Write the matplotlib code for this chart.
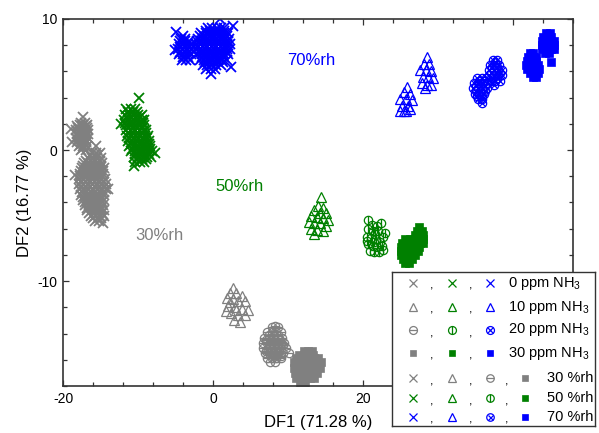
import matplotlib
matplotlib.use("Agg")
import matplotlib.pyplot as plt
from matplotlib.ticker import MultipleLocator, FixedLocator, FixedFormatter

plt.rcParams['font.family'] = ['Liberation Sans', 'DejaVu Sans']
plt.rcParams['mathtext.fontset'] = 'custom'
plt.rcParams['mathtext.rm'] = 'Liberation Sans'
plt.rcParams['mathtext.default'] = 'regular'
plt.rcParams['axes.unicode_minus'] = False

# ---------------- data (DF1, DF2 scores), rows of (DF2, [DF1 ...]) ----------------
# 30 %rh
rh30_ppm0 = [
    (2.5, [-17.3]), (2.1, [-17.6, -17.1]), (1.95, [-17.8, -17.3, -16.8]),
    (1.8, [-18.1, -17.5, -16.9]), (1.65, [-18.0, -17.4, -16.8]), (1.6, [-18.9]),
    (1.5, [-18.3, -17.7, -17.1, -16.7]), (1.35, [-18.0, -17.4, -16.9]),
    (1.2, [-18.2, -17.6, -17.0, -16.6]), (1.05, [-18.0, -17.4, -16.9]),
    (0.9, [-18.3, -17.8, -17.2, -16.7]), (0.75, [-18.0, -17.5, -17.0]),
    (0.6, [-18.8, -18.1, -17.5, -16.9]), (0.45, [-17.6, -17.1]),
    (0.3, [-17.9, -17.3, -16.8, -15.6]), (0.15, [-17.3]), (0.0, [-17.6, -17.0]),
    (-0.2, [-16.2, -15.6, -15.1]), (-0.4, [-16.4, -15.8, -15.3]),
    (-0.6, [-16.7, -16.1, -15.5, -14.9]), (-0.8, [-16.9, -16.3, -15.7, -15.1]),
    (-1.0, [-17.2, -16.6, -16.0, -15.4, -14.8]), (-1.2, [-17.3, -16.7, -16.1, -15.5, -14.9]),
    (-1.4, [-17.5, -16.9, -16.3, -15.7, -15.1, -14.5]),
    (-1.6, [-17.6, -17.0, -16.4, -15.8, -15.2, -14.7]),
    (-1.8, [-17.7, -17.1, -16.5, -15.9, -15.3, -14.7]), (-1.9, [-18.4]),
    (-2.0, [-17.8, -17.2, -16.6, -16.0, -15.4, -14.8]),
    (-2.2, [-17.9, -17.3, -16.7, -16.1, -15.5, -14.9, -14.4]),
    (-2.4, [-17.6, -17.0, -16.4, -15.8, -15.2, -14.6]),
    (-2.6, [-17.9, -17.3, -16.7, -16.1, -15.5, -14.9, -14.3]),
    (-2.8, [-17.6, -17.0, -16.4, -15.8, -15.2, -14.6]),
    (-3.0, [-17.8, -17.2, -16.6, -16.0, -15.4, -14.8, -14.3, -14.0]),
    (-3.2, [-17.5, -16.9, -16.3, -15.7, -15.1, -14.6]),
    (-3.4, [-17.6, -17.0, -16.4, -15.8, -15.2, -14.6]),
    (-3.6, [-17.3, -16.7, -16.1, -15.5, -14.9]),
    (-3.8, [-17.4, -16.8, -16.2, -15.6, -15.0, -14.5]),
    (-4.0, [-17.1, -16.5, -15.9, -15.3, -14.8]),
    (-4.2, [-17.1, -16.5, -15.9, -15.3, -14.7]), (-4.4, [-16.8, -16.2, -15.6, -15.0]),
    (-4.6, [-16.8, -16.2, -15.6, -15.0, -14.5]), (-4.8, [-16.5, -15.9, -15.3, -14.8]),
    (-5.0, [-16.3, -15.7, -15.1, -14.6]), (-5.2, [-16.0, -15.4, -14.9]),
    (-5.4, [-15.8, -15.2]), (-5.6, [-14.7]),
]
rh30_ppm10 = [
    (-10.5, [2.6]), (-10.9, [2.2, 3.0]), (-11.1, [3.8]), (-11.3, [1.8]), (-11.4, [2.6]),
    (-11.5, [3.3, 4.3]), (-11.6, [2.3]), (-11.9, [2.0]), (-12.0, [2.9]), (-12.1, [3.8]),
    (-12.2, [3.1, 4.6]), (-12.3, [1.7]), (-12.4, [2.4]), (-12.6, [3.3, 4.2]),
    (-13.0, [2.8]), (-13.1, [3.6]),
]
rh30_ppm20 = [
    (-13.4, [8.2]), (-13.5, [7.9, 8.6]), (-13.9, [7.2, 7.8, 8.4, 9.0]), (-14.1, [7.5, 8.1, 8.7]),
    (-14.3, [6.8, 7.4, 8.0, 8.6, 9.2]), (-14.5, [7.1, 7.7, 8.3, 8.9]),
    (-14.7, [6.6, 7.2, 7.8, 8.4, 9.0, 9.5]), (-14.9, [7.5, 8.1, 8.7, 9.3]),
    (-15.1, [6.7, 7.3, 7.9, 8.5, 9.1, 9.7]), (-15.3, [7.0, 7.6, 8.2, 8.8]),
    (-15.5, [6.9, 7.5, 8.1, 8.7, 9.3, 10.1]), (-15.7, [7.9, 8.5, 9.1]),
    (-15.9, [7.2, 7.8, 8.4, 9.0]), (-16.2, [7.6, 8.3]),
]
rh30_ppm30 = [
    (-15.3, [12.1, 12.7, 13.2]), (-15.6, [11.5, 12.1, 12.7, 13.3]),
    (-15.9, [11.0, 11.6, 12.2, 12.8, 13.4, 14.0]), (-16.2, [10.8, 11.4, 12.0, 12.6, 13.2, 13.8, 14.4]),
    (-16.6, [10.8, 11.4, 12.0, 12.6, 13.2, 13.8, 14.3]), (-17.0, [10.9, 11.5, 12.1, 12.7, 13.3, 13.9]),
    (-17.4, [11.1, 11.7, 12.3, 12.9, 13.5]), (-17.8, [11.6, 12.2]), (-18.1, [11.8]),
]
# 50 %rh
rh50_ppm0 = [
    (4.0, [-9.9]), (3.1, [-11.6, -11.0, -10.4]), (2.9, [-11.3, -10.7, -10.1]),
    (2.7, [-11.8, -11.2, -10.6, -10.0, -9.5]), (2.5, [-11.5, -10.9, -10.3, -9.8]),
    (2.3, [-11.9, -11.3, -10.7, -10.1, -9.5, -9.2]), (2.1, [-11.7, -11.1, -10.5, -9.9, -9.4]),
    (2.0, [-12.3]), (1.9, [-11.6, -11.0, -10.4, -9.8, -9.2]),
    (1.7, [-11.3, -10.7, -10.1, -9.5]), (1.5, [-11.6, -11.0, -10.4, -9.8, -9.2, -8.9]),
    (1.3, [-11.3, -10.7, -10.1, -9.5, -9.0]), (1.1, [-11.5, -10.9, -10.3, -9.7, -9.1, -8.7]),
    (0.9, [-11.2, -10.6, -10.0, -9.4, -8.8]), (0.7, [-11.4, -10.8, -10.2, -9.6, -9.0, -8.5]),
    (0.5, [-11.0, -10.4, -9.8, -9.2, -8.6]), (0.3, [-11.2, -10.6, -10.0, -9.4, -8.8, -8.4]),
    (0.1, [-10.8, -10.2, -9.6, -9.0, -8.4]), (-0.1, [-11.0, -10.4, -9.8, -9.2, -8.6, -8.1]),
    (-0.2, [-7.8]), (-0.3, [-10.4, -9.8, -9.2, -8.6]),
    (-0.5, [-10.6, -10.0, -9.4, -8.8, -8.3]), (-0.7, [-10.1, -9.5, -8.9]),
    (-0.9, [-10.4, -9.8, -9.2]), (-1.2, [-10.5]),
]
rh50_ppm10 = [
    (-3.6, [14.4]), (-4.3, [14.0]), (-4.4, [14.7]), (-4.6, [13.5]), (-4.8, [14.3, 15.1]),
    (-5.0, [13.0]), (-5.1, [13.8]), (-5.2, [14.6]), (-5.3, [15.3]), (-5.5, [12.8]),
    (-5.6, [13.5, 14.3]), (-5.8, [15.0]), (-6.0, [13.1]), (-6.1, [13.9]), (-6.2, [14.6]),
    (-6.4, [13.5]),
]
rh50_ppm20 = [
    (-5.3, [20.7]), (-5.6, [22.4]), (-5.7, [21.2]), (-5.8, [21.8]), (-6.0, [20.6]),
    (-6.2, [21.3, 22.0]), (-6.3, [22.9]), (-6.4, [21.6]), (-6.6, [20.5, 22.6]), (-6.7, [21.1]),
    (-6.8, [21.7]), (-6.9, [20.5]), (-7.0, [22.3, 21.4]), (-7.2, [20.7]), (-7.3, [21.3, 22.5]),
    (-7.4, [21.9]), (-7.6, [22.7]), (-7.7, [20.9]), (-7.8, [21.5, 22.1]),
]
rh50_ppm30 = [
    (-5.9, [27.4]), (-6.2, [27.2, 27.8]), (-6.5, [26.9, 27.5, 28.0]),
    (-6.8, [25.6, 26.2, 26.8, 27.4, 28.0]), (-7.1, [25.2, 25.8, 26.4, 27.0, 27.6, 28.0]),
    (-7.4, [25.0, 25.6, 26.2, 26.8, 27.4]), (-7.7, [25.0, 25.6, 26.2, 26.8, 27.3]),
    (-8.0, [25.1, 25.7, 26.3, 26.9]), (-8.3, [25.3, 25.9, 26.5]), (-8.6, [25.6, 26.1]),
]
# 70 %rh
rh70_ppm0 = [
    (10.0, [0.9]), (9.5, [2.7]), (9.3, [-0.7, -0.1, 0.5, 1.1, 1.5]),
    (9.1, [-1.0, -0.4, 0.2, 0.8, 1.4]), (9.0, [-4.9]),
    (8.9, [-1.6, -1.0, -0.4, 0.2, 0.8, 1.4, 2.0]),
    (8.7, [-4.0, -1.8, -1.2, -0.6, 0.0, 0.6, 1.2, 1.8]),
    (8.5, [-4.3, -3.7, -2.0, -1.4, -0.8, -0.2, 0.4, 1.0, 1.6, 2.1]),
    (8.3, [-4.4, -3.8, -3.2, -2.2, -1.6, -1.0, -0.4, 0.2, 0.8, 1.4, 2.0]),
    (8.1, [-4.6, -4.0, -3.4, -2.9, -2.3, -1.7, -1.1, -0.5, 0.1, 0.7, 1.3, 1.9, 2.2]),
    (7.9, [-4.4, -3.8, -3.2, -2.6, -2.0, -1.4, -0.8, -0.2, 0.4, 1.0, 1.6]),
    (7.7, [-4.7, -4.1, -3.5, -2.9, -2.3, -1.7, -1.1, -0.5, 0.1, 0.7, 1.3, 1.9, 2.2]),
    (7.6, [-5.1]),
    (7.5, [-4.4, -3.8, -3.2, -2.6, -1.8, -1.2, -0.6, 0.0, 0.6, 1.2, 1.8]),
    (7.3, [-4.6, -4.0, -3.4, -2.9, -2.1, -1.5, -0.9, -0.3, 0.3, 0.9, 1.5, 2.0]),
    (7.1, [-4.0, -3.4, -1.5, -0.9, -0.3, 0.3, 0.9, 1.5]),
    (6.9, [-4.2, -3.6, -3.1, -1.8, -1.2, -0.6, 0.0, 0.6, 1.2, 1.8]),
    (6.7, [-1.1, -0.5, 0.1, 0.7, 1.3]),
    (6.5, [-1.4, -0.8, -0.2, 0.4, 1.0]), (6.3, [2.4]), (6.2, [-0.9, -0.3, 0.3]), (5.8, [-0.3]),
]
rh70_ppm10 = [
    (4.8, [25.9]), (4.4, [25.4]), (4.3, [26.2]), (3.9, [24.9, 25.7]), (3.8, [26.5]),
    (3.4, [25.2, 26.0]), (3.1, [26.3]), (3.0, [24.9, 25.5]), (2.95, [25.7]),
    (7.1, [28.5]), (6.6, [28.1, 28.8]), (6.1, [27.6, 28.4]), (6.0, [29.1]),
    (5.6, [28.0, 28.7]), (5.5, [29.3]), (5.1, [27.8]), (5.0, [28.5, 29.1]), (4.7, [28.2]),
]
rh70_ppm20 = [
    (5.5, [35.2, 35.8, 36.4]), (5.3, [35.5, 36.1]), (5.1, [34.8, 35.4, 36.0, 36.5]),
    (4.9, [35.1, 35.7, 36.3]), (4.7, [34.7, 35.3, 35.9, 36.5]), (4.5, [35.0, 35.6, 36.2]),
    (4.3, [34.9, 35.5, 36.1]), (4.1, [35.2, 35.8]), (3.9, [35.3, 35.9]), (3.6, [35.8]),
    (6.9, [37.3, 37.9]), (6.7, [37.6]), (6.5, [36.9, 37.5, 38.1]), (6.3, [37.2, 37.8]),
    (6.1, [36.8, 37.4, 38.0, 38.5]), (5.9, [37.1, 37.7, 38.3]),
    (5.7, [36.8, 37.4, 38.0, 38.5]), (5.5, [37.3, 37.9]), (5.3, [37.0, 37.6, 38.2]), (5.0, [37.4]),
]
rh70_ppm30 = [
    (7.4, [42.2, 42.7]), (7.1, [42.0, 42.6, 43.0]), (6.8, [41.9, 42.5, 43.0]),
    (6.5, [41.7, 42.3, 42.9, 43.3]), (6.2, [41.8, 42.4, 43.0, 43.5]), (5.9, [42.2, 42.8, 43.3]),
    (5.6, [42.6, 43.1]),
    (8.9, [44.4, 44.9]), (8.6, [44.0, 44.6, 45.1]), (8.3, [43.8, 44.4, 45.0, 45.5]),
    (8.0, [43.8, 44.4, 45.0, 45.5]), (7.7, [43.9, 44.5, 45.1, 45.4]), (7.4, [44.2, 44.8]),
    (6.7, [45.1]),
]

humidities = ["30 %rh", "50 %rh", "70 %rh"]
concentrations = ["0 ppm NH$_3$", "10 ppm NH$_3$", "20 ppm NH$_3$", "30 ppm NH$_3$"]
colors = ["#808080", "#008000", "#0000FF"]
inner_marks = ["_", "|", "x"]          # ⊖, Φ, ⊗ for 20 ppm
clusters = [
    [rh30_ppm0, rh30_ppm10, rh30_ppm20, rh30_ppm30],
    [rh50_ppm0, rh50_ppm10, rh50_ppm20, rh50_ppm30],
    [rh70_ppm0, rh70_ppm10, rh70_ppm20, rh70_ppm30],
]
rh_labels = [("30%rh", -7.2, -6.5), ("50%rh", 3.5, -2.8), ("70%rh", 13.1, 6.8)]
x_major = [-20, 0, 20, 40]
x_major_labels = ["-20", "0", "20", ""]   # the 40 label sits under the legend box


def expand(rows):
    xs, ys = [], []
    for y, xrow in rows:
        for x in xrow:
            xs.append(x)
            ys.append(y)
    return xs, ys


def draw_marker(a, x, y, conc, hi, scale=1.0, xw=0.9, **kw):
    c = colors[hi]
    if conc == 0:
        a.plot(x, y, ls="none", marker="x", ms=6.8 * scale, mew=xw, color=c, **kw)
    elif conc == 1:
        a.plot(x, y, ls="none", marker="^", ms=6.8 * scale, mew=0.9, mfc="none", mec=c, **kw)
    elif conc == 2:
        a.plot(x, y, ls="none", marker="o", ms=6.0 * scale, mew=0.9, mfc="none", mec=c, **kw)
        im = inner_marks[hi]
        ims = 4.0 if im == "x" else 6.0
        a.plot(x, y, ls="none", marker=im, ms=ims * scale, mew=0.9, color=c, **kw)
    else:
        a.plot(x, y, ls="none", marker="s", ms=5.3 * scale, mew=0.5, color=c, **kw)


W, H = 599, 433
fig = plt.figure(figsize=(W / 100, H / 100), dpi=100)
ax = fig.add_axes([63 / W, 1 - 386 / H, 510 / W, 367 / H])

for hi in range(3):
    for ci in range(4):
        xs, ys = expand(clusters[hi][ci])
        draw_marker(ax, xs, ys, ci, hi, xw=1.3)

for (txt, tx, ty), c in zip(rh_labels, colors):
    ax.text(tx, ty, txt, color=c, fontsize=12, ha="center", va="center")

ax.set_xlim(-20, 48)
ax.set_ylim(-18, 10)
ax.xaxis.set_major_locator(FixedLocator(x_major))
ax.xaxis.set_major_formatter(FixedFormatter(x_major_labels))
ax.xaxis.set_minor_locator(MultipleLocator(4))
ax.yaxis.set_major_locator(MultipleLocator(10))
ax.yaxis.set_minor_locator(MultipleLocator(2))
spc = "#333333"
for s in ax.spines.values():
    s.set_color(spc)
    s.set_linewidth(1.2)
ax.tick_params(which="both", direction="in", top=True, right=True, color=spc,
               labelsize=10, width=0.9, pad=4)
ax.tick_params(which="major", length=4)
ax.tick_params(which="minor", length=3)
ax.set_xlabel("DF1 (71.28 %)", fontsize=12, labelpad=7)
ax.set_ylabel("DF2 (16.77 %)", fontsize=12, labelpad=4)

# ---------------- custom legend box ----------------
lx0, ly0, lx1, ly1 = 392, 272, 595, 426
lax = fig.add_axes([lx0 / W, 1 - ly1 / H, (lx1 - lx0) / W, (ly1 - ly0) / H])
lax.set_xlim(0, lx1 - lx0)
lax.set_ylim(ly1 - ly0, 0)
lax.set_xticks([])
lax.set_yticks([])
for s in lax.spines.values():
    s.set_color(spc)
    s.set_linewidth(1.0)
lax.set_zorder(5)

row_y = [11, 35, 58, 81, 106, 126, 145]
col_x = [21, 60, 98, 133]
comma_x = [40, 79, 115]
for ci, lab in enumerate(concentrations):
    yy = row_y[ci]
    for hi in range(3):
        draw_marker(lax, [col_x[hi]], [yy], ci, hi, scale=0.95, clip_on=False)
    for cx in comma_x[:2]:
        lax.text(cx, yy + 6, ",", fontsize=9, ha="center", va="baseline")
    lax.text(116, yy, lab, fontsize=10.5, ha="left", va="center")
for hi, lab in enumerate(humidities):
    yy = row_y[4 + hi]
    for ci in range(4):
        draw_marker(lax, [col_x[ci]], [yy], ci, hi, scale=0.9, clip_on=False)
    for cx in comma_x:
        lax.text(cx, yy + 6, ",", fontsize=9, ha="center", va="baseline")
    lax.text(155, yy, lab, fontsize=10.5, ha="left", va="center")

fig.savefig("out.png", dpi=100)
